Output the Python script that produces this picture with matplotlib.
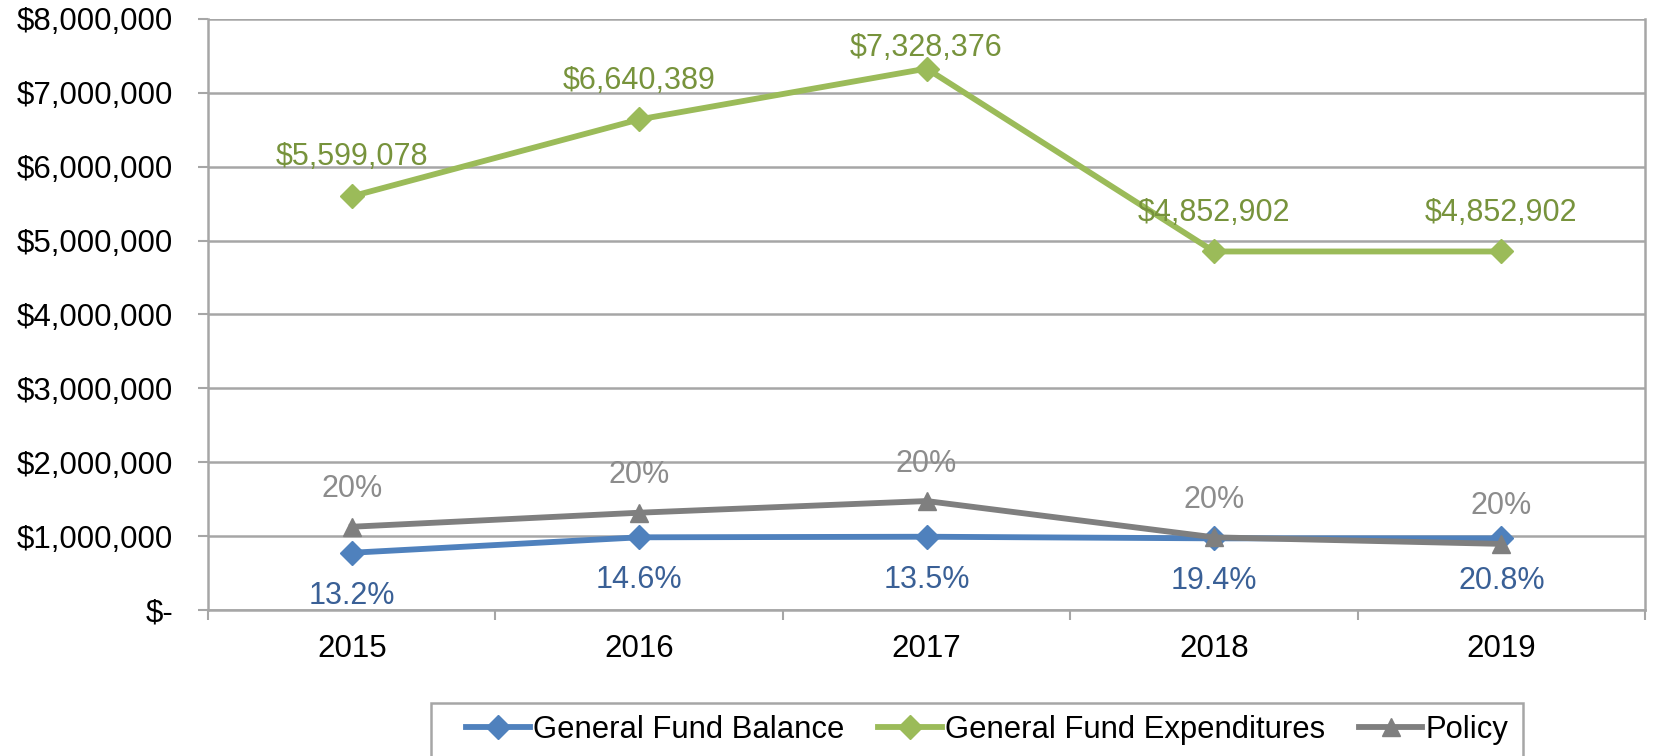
import matplotlib
matplotlib.use('Agg')
import matplotlib.pyplot as plt
from matplotlib.patches import Rectangle
from matplotlib.ticker import FuncFormatter, MultipleLocator

plt.rcParams['font.family'] = ['Liberation Sans', 'DejaVu Sans']

years = ['2015', '2016', '2017', '2018', '2019']
expenditures = [5599078, 6640389, 7328376, 4852902, 4852902]
balance = [775000, 984000, 992000, 970000, 970000]
policy = [1127000, 1317000, 1475000, 984000, 895000]
balance_labels = ['13.2%', '14.6%', '13.5%', '19.4%', '20.8%']
policy_labels = ['20%', '20%', '20%', '20%', '20%']
exp_labels = ['${:,}'.format(v) for v in expenditures]

green, blue, gray = '#9BBB59', '#4F81BD', '#7F7F7F'
grid_c = '#A6A6A6'

fig = plt.figure(figsize=(16.58, 7.56), dpi=100)
ax = fig.add_axes([0.1255, 0.1931, 0.8667, 0.7818])
x = range(len(years))

ax.plot(x, balance, color=blue, lw=4.2, marker='D', ms=12.5, label='General Fund Balance', zorder=4)
ax.plot(x, expenditures, color=green, lw=4.2, marker='D', ms=12.5, label='General Fund Expenditures', zorder=3)
ax.plot(x, policy, color=gray, lw=4.2, marker='^', ms=12.5, label='Policy', zorder=5)

fs = 22.5
lfs = 22
green_off = [28, 28, 15, 28, 28]
for i in x:
    ax.annotate(exp_labels[i], (i, expenditures[i]), xytext=(0, green_off[i]), textcoords='offset points',
                ha='center', va='center', color='#77933C', fontsize=lfs)
    ax.annotate(policy_labels[i], (i, policy[i]), xytext=(0, 27), textcoords='offset points',
                ha='center', va='center', color='#8C8C8C', fontsize=lfs)
    ax.annotate(balance_labels[i], (i, balance[i]), xytext=(0, -31), textcoords='offset points',
                ha='center', va='center', color='#3A6096', fontsize=lfs)

ax.set_xlim(-0.5, 4.5)
ax.set_ylim(0, 8000000)
ax.yaxis.set_major_locator(MultipleLocator(1000000))
ax.yaxis.set_major_formatter(FuncFormatter(lambda v, p: '$-' if v == 0 else '${:,.0f}'.format(v)))
ax.set_xticks(list(x))
ax.set_xticklabels(years)
ax.set_xticks([i - 0.5 for i in range(len(years) + 1)], minor=True)
ax.tick_params(axis='x', which='major', length=0, pad=17, labelsize=fs)
ax.tick_params(axis='x', which='minor', length=7, width=1.5, color=grid_c, direction='out')
ax.tick_params(axis='y', length=7, width=1.5, color=grid_c, pad=18, labelsize=fs)
ax.grid(axis='y', color=grid_c, lw=1.8, zorder=0)
ax.set_axisbelow(True)
for s in ['left', 'bottom', 'right']:
    ax.spines[s].set_color(grid_c)
    ax.spines[s].set_linewidth(1.8)
ax.spines['top'].set_visible(False)

# legend box (runs off the bottom edge like the original)
fig.patches.append(Rectangle((0.260, -0.02), 0.6586, 0.0901, transform=fig.transFigure,
                             fill=False, edgecolor=grid_c, lw=1.8))
fig.legend(loc='center left', bbox_to_anchor=(0.2811, 0.035), ncol=3, fontsize=22.3,
           frameon=False, handlelength=2.05, columnspacing=1.1, handletextpad=0.1,
           borderpad=0, borderaxespad=0)

fig.savefig('out.png', dpi=100)
